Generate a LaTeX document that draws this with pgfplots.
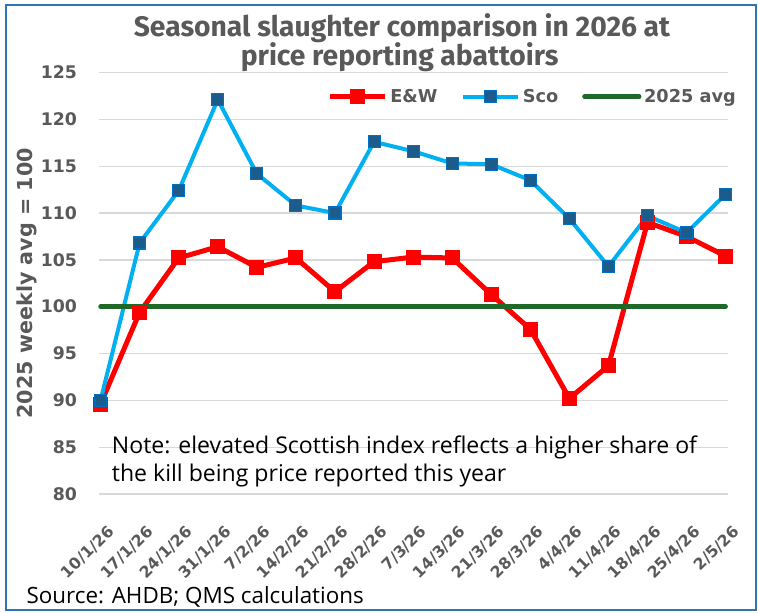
\documentclass[border=0pt]{standalone}
\usepackage{fontspec}
\setmainfont{DejaVu Sans}
\newfontfamily\notefont{Open Sans}
\newfontfamily\titlefont{Fira Sans}
\usepackage{pgfplots}
\pgfplotsset{compat=1.18}
\definecolor{ewred}{RGB}{255,0,0}
\definecolor{scoline}{RGB}{0,176,240}
\definecolor{scofill}{RGB}{28,92,140}
\definecolor{scoedge}{RGB}{0,112,192}
\definecolor{avggreen}{RGB}{30,105,40}
\definecolor{txtgray}{RGB}{89,89,89}
\definecolor{gridgray}{RGB}{217,217,217}
\definecolor{framecol}{RGB}{46,117,182}
\begin{document}
\begin{tikzpicture}
\useasboundingbox (-74.25pt,-88.5pt) rectangle (494.25pt,370.5pt);
\draw[framecol, line width=1.5pt] (-69.4pt,-87pt) rectangle (492.75pt,366.75pt);
\begin{axis}[
  at={(0,0)}, anchor=south west,
  scale only axis,
  width=471.75pt, height=316.1pt,
  xmin=-0.04, xmax=16.06,
  ymin=80, ymax=125,
  ytick={80,85,...,125},
  xtick={0,...,16},
  xticklabels={10/1/26,17/1/26,24/1/26,31/1/26,7/2/26,14/2/26,21/2/26,28/2/26,7/3/26,14/3/26,21/3/26,28/3/26,4/4/26,11/4/26,18/4/26,25/4/26,2/5/26},
  axis line style={draw=none},
  major tick length=0pt,
  ymajorgrids,
  grid style={gridgray, line width=1pt},
  /pgf/number format/assume math mode=true,
  yticklabel style={font=\fontsize{13}{13}\bfseries\selectfont, text=txtgray, anchor=east, xshift=-13pt},
  xticklabel style={font=\fontsize{11.8}{11.8}\bfseries\selectfont, text=txtgray, rotate=45, anchor=north east, inner sep=1pt, xshift=-1.06pt, yshift=-7.42pt},
  xticklabel shift=15pt,
  ylabel={2025 weekly avg = 100},
  ylabel style={font=\fontsize{15.5}{15.5}\bfseries\selectfont, text=txtgray, at={(axis description cs:-0.1145,0.5)}, anchor=center},
  clip=false,
  legend columns=3,
  legend style={draw=none, fill=none, at={(0.3636,0.9426)}, anchor=west,
    inner xsep=0pt, inner ysep=0pt,
    font=\fontsize{13.3}{13.3}\bfseries\selectfont, text=txtgray,
    nodes={inner sep=2pt},
    /tikz/every even column/.append style={column sep=16pt}},
  legend image code/.code={\draw[mark repeat=2,mark phase=2,#1] plot coordinates {(0pt,0pt) (20.5pt,0pt) (41pt,0pt)};},
]
\addplot[ewred, line width=3.75pt, mark=square*, mark size=5.25pt, mark options={fill=ewred, draw=ewred, line width=0pt}] coordinates {
(0,89.6)(1,99.4)(2,105.2)(3,106.4)(4,104.2)(5,105.2)(6,101.6)(7,104.8)(8,105.3)(9,105.2)(10,101.3)(11,97.6)(12,90.2)(13,93.7)(14,109.0)(15,107.5)(16,105.4)};
\addlegendentry{E\&W}
\addplot[scoline, line width=3pt, mark=square*, mark size=4.5pt, mark options={fill=scofill, draw=scoedge, line width=0.8pt}] coordinates {
(0,90.0)(1,106.8)(2,112.4)(3,122.1)(4,114.2)(5,110.8)(6,110.0)(7,117.6)(8,116.6)(9,115.3)(10,115.2)(11,113.5)(12,109.4)(13,104.3)(14,109.7)(15,107.9)(16,112.0)};
\addlegendentry{Sco}
\addplot[avggreen, line width=3.4pt, line cap=round, mark=none] coordinates {(0,100)(16,100)};
\addlegendentry{2025 avg}
\end{axis}
\node[anchor=base, inner sep=0pt, font=\titlefont\fontsize{21.2}{21.2}\bfseries\selectfont, text=txtgray] at (227.25pt,343pt) {Seasonal slaughter comparison in 2026 at};
\node[anchor=base, inner sep=0pt, font=\titlefont\fontsize{21.2}{21.2}\bfseries\selectfont, text=txtgray] at (225.5pt,321.75pt) {price reporting abattoirs};
\node[anchor=base west, inner sep=0pt, font=\notefont\fontsize{17.3}{17.3}\selectfont] at (9.5pt,30.75pt) {Note: elevated Scottish index reflects a higher share of};
\node[anchor=base west, inner sep=0pt, font=\notefont\fontsize{17.3}{17.3}\selectfont] at (9.5pt,9.75pt) {the kill being price reported this year};
\node[anchor=base west, inner sep=0pt, font=\notefont\fontsize{16.8}{16.8}\selectfont] at (-54.5pt,-82pt) {Source: AHDB; QMS calculations};
\end{tikzpicture}
\end{document}
